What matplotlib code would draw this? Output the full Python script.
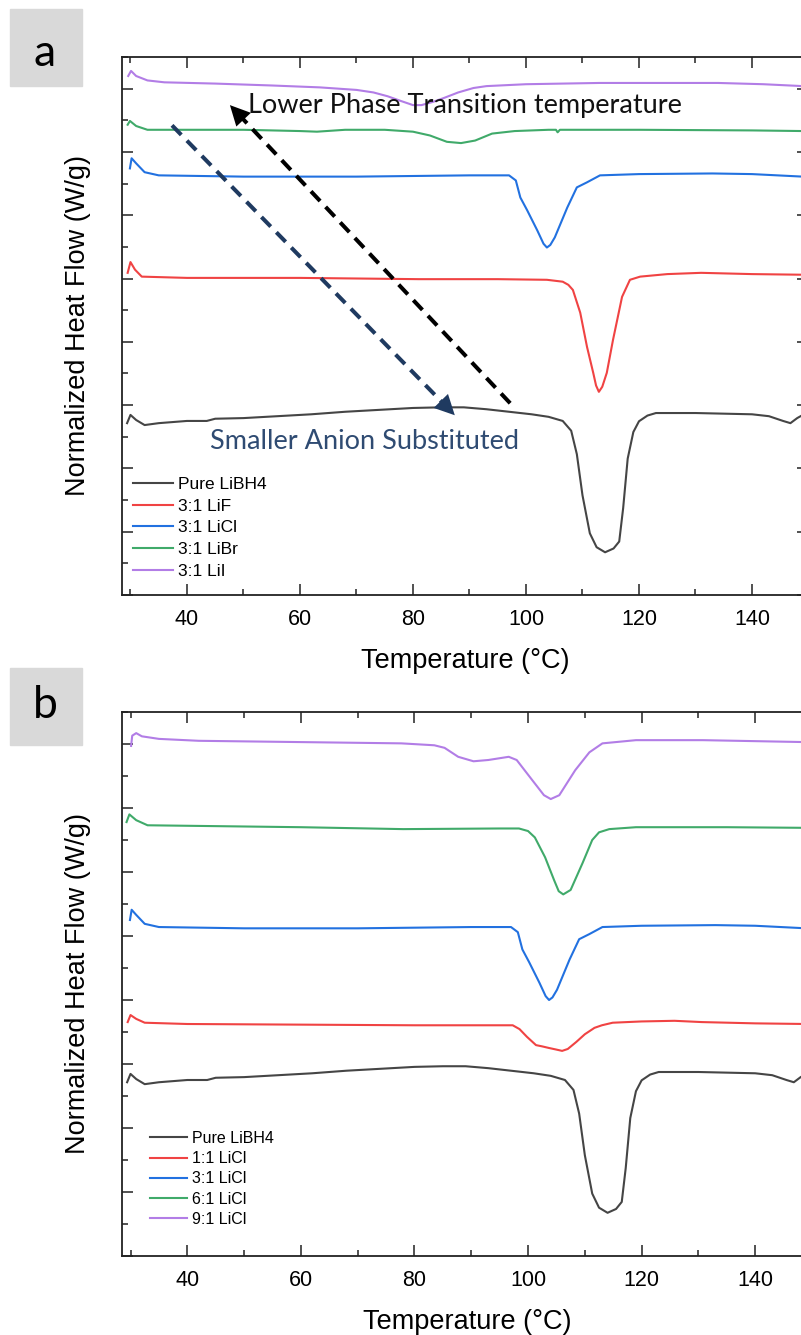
import numpy as np
import matplotlib.pyplot as plt
from matplotlib.patches import Rectangle
from matplotlib.ticker import MultipleLocator

plt.rcParams['font.family'] = ['Liberation Sans', 'DejaVu Sans']

# DSC heating traces, baseline-subtracted (W/g); stacked with offsets per panel
pure_t = [29.4, 30.0, 31.0, 32.5, 35, 40, 43.5, 45, 50, 56, 62, 68, 74, 80, 85, 89, 93, 97, 101, 104,
          106.5, 108, 109, 110, 111.3, 112.5, 114, 115.5, 116.5, 117.2, 118, 119, 120, 121.5, 123, 130,
          140, 143, 145.5, 146.8, 148, 149]
pure_y = [-0.16, -0.03, -0.11, -0.19, -0.16, -0.125, -0.125, -0.09, -0.08, -0.05, -0.02, 0.02, 0.05, 0.08,
          0.09, 0.09, 0.06, 0.02, -0.02, -0.06, -0.125, -0.28, -0.65, -1.30, -1.90, -2.12, -2.20, -2.14,
          -2.03, -1.50, -0.72, -0.30, -0.13, -0.04, 0.0, 0.0, -0.02, -0.05, -0.125, -0.16, -0.08, -0.03]

lif_t = [29.5, 30.0, 30.8, 32, 40, 60, 81, 95, 103.7, 106.5, 107.5, 108.3, 109.6, 110.8, 111.9, 112.4,
         112.9, 113.5, 114.3, 115.4, 117, 118.4, 120.2, 125, 131, 140, 149]
lif_y = [0.08, 0.25, 0.13, 0.02, 0, 0, -0.02, -0.02, -0.03, -0.06, -0.11, -0.19, -0.55, -1.09, -1.50, -1.70,
         -1.80, -1.72, -1.50, -0.98, -0.30, -0.03, 0.02, 0.06, 0.08, 0.06, 0.05]

licl3_t = [29.9, 30.2, 31, 32.5, 35, 50, 70, 90, 97, 98.2, 99, 100.2, 102, 103.1, 103.7, 104.3, 105.1,
           107.3, 109, 110.8, 113.1, 120, 133, 140, 149]
licl3_y = [0.11, 0.27, 0.19, 0.05, 0, -0.02, -0.02, 0, 0, -0.08, -0.35, -0.55, -0.87, -1.08, -1.14, -1.10,
           -0.98, -0.51, -0.19, -0.11, 0, 0.02, 0.03, 0.02, -0.02]

libr_t = [29.5, 29.9, 31, 33, 50, 60, 63, 68, 75, 80, 83, 86, 88.5, 91, 94, 98, 104, 105.3, 105.6, 106,
          120, 140, 149]
libr_y = [0.08, 0.14, 0.06, 0, 0, -0.02, -0.03, 0, 0, -0.03, -0.09, -0.19, -0.21, -0.17, -0.06, -0.02, 0,
          0, -0.04, 0, 0, -0.01, -0.02]

lii_t = [29.6, 30.1, 31, 33, 36, 45, 55, 63.5, 70, 73, 75.5, 77.7, 80, 81.5, 83.5, 85.4, 88, 90.7, 93, 100,
         113, 134, 142, 149]
lii_y = [0.13, 0.21, 0.13, 0.06, 0.03, 0.01, -0.02, -0.05, -0.09, -0.13, -0.19, -0.26, -0.33, -0.33, -0.28,
         -0.22, -0.13, -0.06, -0.03, 0, 0.02, 0.02, 0.0, -0.03]

licl1_t = [29.5, 30.0, 31, 32.5, 40, 80, 97.3, 98.5, 99.8, 101.4, 102.5, 103.7, 105, 106, 107, 108.5, 110,
           111.7, 113, 114.9, 120, 125.8, 130.6, 140, 149]
licl1_y = [0.03, 0.14, 0.08, 0.02, 0, -0.02, -0.02, -0.08, -0.20, -0.33, -0.35, -0.375, -0.40, -0.42, -0.39,
           -0.28, -0.16, -0.06, -0.02, 0.02, 0.04, 0.05, 0.03, 0.01, 0]

licl6_t = [29.3, 29.8, 31, 33, 60, 78, 95, 98.4, 100, 101.2, 103, 104.6, 105.4, 106.2, 107.5, 109.6, 111.3,
           112.5, 114.3, 119, 135, 149]
licl6_y = [0.08, 0.20, 0.11, 0.03, 0, -0.03, -0.02, -0.02, -0.06, -0.16, -0.47, -0.83, -1.0, -1.05, -0.98,
           -0.56, -0.20, -0.08, -0.03, 0, 0, -0.01]

licl9_t = [30.1, 30.3, 31.0, 32, 35, 42, 77.7, 83.5, 85.3, 87.7, 90.4, 93, 96.6, 98, 100.7, 102.8, 104,
           105.5, 108.3, 110.8, 113.1, 119, 130.8, 148.7]
licl9_y = [-0.06, 0.10, 0.14, 0.09, 0.05, 0.02, -0.02, -0.05, -0.09, -0.23, -0.30, -0.28, -0.23, -0.28,
           -0.59, -0.83, -0.89, -0.83, -0.44, -0.16, -0.02, 0.03, 0.03, 0]

c_pure = '#454545'
c_red = '#f04343'
c_blue = '#2271e0'
c_green = '#40aa6a'
c_purple = '#b27de6'

panel_a = [('Pure LiBH4', pure_t, pure_y, 2.875, c_pure),
           ('3:1 LiF', lif_t, lif_y, 5.01, c_red),
           ('3:1 LiCl', licl3_t, licl3_y, 6.63, c_blue),
           ('3:1 LiBr', libr_t, libr_y, 7.35, c_green),
           ('3:1 LiI', lii_t, lii_y, 8.07, c_purple)]
panel_b = [('Pure LiBH4', pure_t, pure_y, 2.875, c_pure),
           ('1:1 LiCl', licl1_t, licl1_y, 3.625, c_red),
           ('3:1 LiCl', licl3_t, licl3_y, 5.14, c_blue),
           ('6:1 LiCl', licl6_t, licl6_y, 6.70, c_green),
           ('9:1 LiCl', licl9_t, licl9_y, 8.03, c_purple)]

W, H = 801, 1335
fig = plt.figure(figsize=(W / 100, H / 100), dpi=100)
ax_a = fig.add_axes([122 / W, (H - 595) / H, 686.5 / W, 538 / H])
ax_b = fig.add_axes([122 / W, (H - 1256) / H, 690 / W, 544 / H])


def style_axes(ax):
    ax.set_xlim(28.5, 150)
    ax.set_ylim(0, 8.5)
    ax.xaxis.set_major_locator(MultipleLocator(20))
    ax.xaxis.set_minor_locator(MultipleLocator(10))
    ax.yaxis.set_major_locator(MultipleLocator(1))
    ax.yaxis.set_minor_locator(MultipleLocator(0.5))
    ax.tick_params(which='both', direction='in', top=True, right=True, width=1.1, color='#222222')
    ax.tick_params(which='major', length=8)
    ax.tick_params(which='minor', length=4.5)
    ax.tick_params(axis='x', labelsize=15.5, pad=10)
    ax.tick_params(axis='y', labelleft=False)
    for s in ax.spines.values():
        s.set_linewidth(1.3)
        s.set_color('#222222')
    ax.set_xlabel('Temperature (°C)', fontsize=19.5)
    ax.set_ylabel('Normalized Heat Flow (W/g)', fontsize=19.5)
    ax.xaxis.set_label_coords(0.5, -0.098)
    ax.yaxis.set_label_coords(-0.045, 0.5)


for ax, curves in [(ax_a, panel_a), (ax_b, panel_b)]:
    for name, t, y, off, col in curves:
        ax.plot(t, np.array(y) + off, color=col, lw=1.5, label=name)
    style_axes(ax)

ax_a.legend(loc='upper left', bbox_to_anchor=(0.016, 0.219), frameon=False, fontsize=12.5,
            handlelength=2.3, handletextpad=0.3, labelspacing=0.37, borderpad=0, borderaxespad=0)
ax_b.legend(loc='upper left', bbox_to_anchor=(0.041, 0.230), frameon=False, fontsize=11.5,
            handlelength=2.3, handletextpad=0.3, labelspacing=0.33, borderpad=0, borderaxespad=0)


def dashed_arrow(ax, tail, tip, color):
    tail = np.array(tail)
    tip = np.array(tip)
    base = tip + 0.04 * (tail - tip)
    ax.plot([tail[0], base[0]], [tail[1], base[1]], color=color, lw=2.9, ls=(0, (3.3, 2.0)))
    ax.annotate('', xy=tip, xytext=base,
                arrowprops=dict(arrowstyle='-|>,head_length=0.9,head_width=0.45', color=color,
                                lw=0, mutation_scale=16, shrinkA=0, shrinkB=0))


dashed_arrow(ax_a, (97.2, 3.03), (47.6, 7.74), '#000000')
dashed_arrow(ax_a, (37.35, 7.42), (87.4, 2.84), '#1f3a60')

ax_a.text(50.8, 7.74, 'Lower Phase Transition temperature', fontsize=19.5, family=['Lato', 'DejaVu Sans'],
          color='#111111', ha='left', va='center')
ax_a.text(44.1, 2.43, 'Smaller Anion Substituted', fontsize=19.5, family=['Lato', 'DejaVu Sans'],
          color='#2f4b72', ha='left', va='center')

# panel letters on grey tabs
for letter, y0, y1, cy in [('a', 9, 86, 54), ('b', 668, 745, 705)]:
    fig.patches.append(Rectangle((10 / W, (H - y1) / H), 72 / W, (y1 - y0) / H,
                                 transform=fig.transFigure, color='#d9d9d9', zorder=0))
    fig.text(45 / W, (H - cy) / H, letter, fontsize=32, family=['Lato', 'DejaVu Sans'],
             ha='center', va='center')

fig.savefig('out.png', dpi=100)
